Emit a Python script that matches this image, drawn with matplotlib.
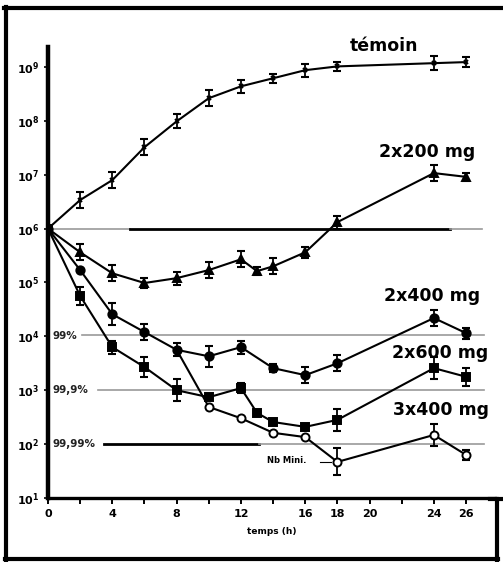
import matplotlib
matplotlib.use("Agg")
import matplotlib.pyplot as plt
from matplotlib.lines import Line2D
import numpy as np

# ---------------- data (log10 of counts) ----------------
t_temoin = [0, 2, 4, 6, 8, 10, 12, 14, 16, 18, 24, 26]
temoin = [6.0, 6.53, 6.90, 7.51, 7.99, 8.42, 8.64, 8.79, 8.94, 9.01, 9.07, 9.09]
temoin_err = [0, 0.15, 0.15, 0.15, 0.13, 0.15, 0.12, 0.08, 0.12, 0.08, 0.13, 0.1]

t_2x200 = [0, 2, 4, 6, 8, 10, 12, 13, 14, 16, 18, 24, 26]
d2x200 = [6.0, 5.56, 5.17, 4.99, 5.08, 5.23, 5.43, 5.21, 5.30, 5.56, 6.12, 7.03, 6.96]
d2x200_err = [0, 0.15, 0.15, 0.1, 0.12, 0.15, 0.15, 0.08, 0.15, 0.1, 0.12, 0.15, 0.08]

t_2x400 = [0, 2, 4, 6, 8, 10, 12, 14, 16, 18, 24, 26]
d2x400 = [6.0, 5.23, 4.41, 4.08, 3.75, 3.63, 3.80, 3.41, 3.28, 3.50, 4.34, 4.06]
d2x400_err = [0, 0, 0.2, 0.15, 0.12, 0.2, 0.12, 0.08, 0.15, 0.15, 0.15, 0.1]

t_2x600 = [0, 2, 4, 6, 8, 10, 12, 13, 14, 16, 18, 24, 26]
d2x600 = [6.0, 4.75, 3.80, 3.43, 3.00, 2.87, 3.04, 2.58, 2.41, 2.32, 2.45, 3.41, 3.25]
d2x600_err = [0, 0.17, 0.12, 0.18, 0.2, 0, 0.1, 0, 0, 0, 0.2, 0.2, 0.17]

t_3x400 = [8, 10, 12, 14, 16, 18, 24, 26]
d3x400 = [3.75, 2.69, 2.48, 2.21, 2.13, 1.67, 2.17, 1.80]
d3x400_err = [0, 0, 0, 0, 0, 0.25, 0.2, 0.1]

xticks_major = [0, 4, 8, 12, 16, 18, 20, 24, 26]
xticks_minor = [2, 6, 10, 14, 22]
ydecades = [1, 2, 3, 4, 5, 6, 7, 8, 9]
pct_levels = [4, 3, 2]
pct_labels = ["99%", "99,9%", "99,99%"]
series_labels = ["témoin", "2x200 mg", "2x400 mg", "2x600 mg", "3x400 mg"]

W, H = 503, 562
fig = plt.figure(figsize=(W / 100, H / 100), dpi=100)
fig.patch.set_facecolor("white")

def fx(px):
    return px / W

def fy(py):
    return 1 - py / H

ax = fig.add_axes([fx(48), fy(498), fx(495) - fx(48), fy(47) - fy(498)])
ax.set_xlim(0, 27.8)
ax.set_ylim(1, 9.37)

def plot_series(t, v, e, marker, ms, mfc, markevery=None):
    v = np.array(v, dtype=float)
    e = np.array(e, dtype=float)
    ax.plot(t, v, color="black", lw=1.5, zorder=3)
    idx = np.arange(len(t)) if markevery is None else np.array(markevery)
    tt = np.array(t)[idx]
    vv = v[idx]
    ee = e[idx]
    m = ee > 0
    ax.errorbar(tt[m], vv[m], yerr=ee[m], fmt="none", ecolor="black",
                elinewidth=1.3, capsize=3.2, capthick=1.5, zorder=4)
    ax.plot(tt, vv, ls="none", marker=marker, ms=ms, mfc=mfc,
            mec="black", mew=1.4, zorder=5)

# reference lines
ax.plot([0, 5.1], [6, 6], color="#999999", lw=1.2, zorder=1)
ax.plot([5.1, 25.0], [6, 6], color="black", lw=2.0, zorder=1)
ax.plot([25.0, 27.0], [6, 6], color="#999999", lw=1.2, zorder=1)
ax.plot([2.1, 27.1], [4.02, 4.02], color="#999999", lw=1.2, zorder=1)
ax.plot([3.1, 27.1], [3.0, 3.0], color="#999999", lw=1.2, zorder=1)
ax.plot([3.5, 13.1], [2.0, 2.0], color="black", lw=2.0, zorder=1)
ax.plot([13.1, 27.1], [2.0, 2.0], color="#999999", lw=1.2, zorder=1)

for lvl, lab in zip(pct_levels, pct_labels):
    ax.text(0.3, lvl, lab, fontsize=7.5, fontweight="bold", va="center",
            ha="left", color="#222222", zorder=6)

plot_series(t_temoin, temoin, temoin_err, "x", 3.5, "black")
plot_series(t_2x200, d2x200, d2x200_err, "^", 5.5, "black")
plot_series(t_2x400, d2x400, d2x400_err, "o", 6, "black")
plot_series(t_2x600, d2x600, d2x600_err, "s", 5.2, "black")
plot_series(t_3x400, d3x400, d3x400_err, "o", 5.8, "white",
            markevery=list(range(1, len(t_3x400))))

# series labels
ax.text(20.9, 9.38, series_labels[0], fontsize=12.5, fontweight="bold",
        ha="center", va="center")
ax.text(26.6, 7.42, series_labels[1], fontsize=12.5, fontweight="semibold",
        ha="right", va="center")
ax.text(26.9, 4.75, series_labels[2], fontsize=12.5, fontweight="semibold",
        ha="right", va="center")
ax.text(27.4, 3.69, series_labels[3], fontsize=12.5, fontweight="semibold",
        ha="right", va="center")
ax.text(27.4, 2.63, series_labels[4], fontsize=12.5, fontweight="semibold",
        ha="right", va="center")

# Nb Mini annotation
ax.text(13.6, 1.70, "Nb Mini.", fontsize=6, fontweight="bold",
        ha="left", va="center")
ax.plot([16.9, 17.6], [1.67, 1.67], color="black", lw=0.8)

# axes styling
for s in ["top", "right"]:
    ax.spines[s].set_visible(False)
ax.spines["left"].set_linewidth(3.2)
ax.spines["bottom"].set_linewidth(2.4)

ax.set_xticks(xticks_major)
ax.set_xticks(xticks_minor, minor=True)
ax.set_xticklabels([str(v) for v in xticks_major], fontsize=8, fontweight="bold")
ax.tick_params(axis="x", which="both", direction="out", length=4, width=1.4,
               pad=4)
ax.set_yticks(ydecades)
ax.set_yticklabels([r"$\mathbf{10^{%d}}$" % d for d in ydecades], fontsize=8)
ax.tick_params(axis="y", direction="out", length=3, width=1.2, pad=3)
ax.set_xlabel("temps (h)", fontsize=6.5, fontweight="bold", labelpad=6)
ax.patch.set_alpha(0)

# outer frame
frame_kw = dict(color="black", lw=3.0, transform=fig.transFigure)
fig.add_artist(Line2D([fx(4), fx(503)], [fy(8), fy(8)], **frame_kw))
fig.add_artist(Line2D([fx(6), fx(6)], [fy(7), fy(560)], **frame_kw))
fig.add_artist(Line2D([fx(5), fx(498)], [fy(559), fy(559)], **frame_kw))
fig.add_artist(Line2D([fx(497), fx(497)], [fy(499), fy(560)], **frame_kw))
fig.add_artist(Line2D([fx(490), fx(503)], [fy(499), fy(499)], **frame_kw))

fig.savefig("out.png", dpi=100, facecolor="white")
